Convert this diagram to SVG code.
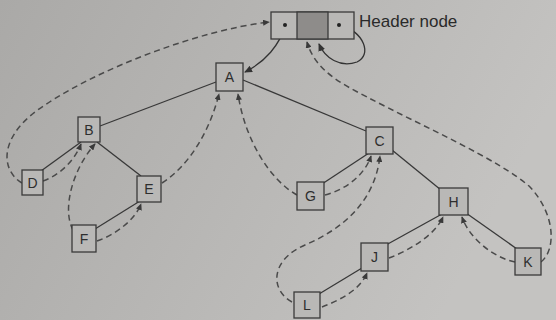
<svg xmlns="http://www.w3.org/2000/svg" width="556" height="320" viewBox="0 0 556 320">
<defs>
<linearGradient id="bg" x1="0" y1="0" x2="1" y2="0.3">
<stop offset="0" stop-color="#aaa9a7"/>
<stop offset="1" stop-color="#c4c3c1"/>
</linearGradient>
<marker id="ah" viewBox="0 0 8 7" refX="7" refY="3.5" markerWidth="8" markerHeight="7" markerUnits="userSpaceOnUse" orient="auto">
<path d="M0,0 L8,3.5 L0,7 z" fill="#333"/>
</marker>
<marker id="ahd" viewBox="0 0 8 7" refX="7" refY="3.5" markerWidth="7" markerHeight="6" markerUnits="userSpaceOnUse" orient="auto">
<path d="M0,0 L8,3.5 L0,7 z" fill="#3a3a3a"/>
</marker>
</defs>
<style>
.box{fill:#b9b8b6;stroke:#3a3a3a;stroke-width:1.3}
.lbl{font-family:"Liberation Sans",Arial,sans-serif;font-size:14px;fill:#2e2e2e;text-anchor:middle}
.edge{fill:none;stroke:#383838;stroke-width:1.3}
.thread{fill:none;stroke:#4a4a4a;stroke-width:1.5;stroke-dasharray:6 4;marker-end:url(#ahd)}
.ptr{fill:none;stroke:#333;stroke-width:1.3;marker-end:url(#ah)}
</style>
<rect width="556" height="320" fill="url(#bg)"/>
<g id="connectors">
<path class="edge" d="M216,82 L100,126"/>
<path class="edge" d="M243,80 L366,131"/>
<path class="edge" d="M81,142 L41,171"/>
<path class="edge" d="M97,142 L141,176"/>
<path class="edge" d="M140,201 L95,229"/>
<path class="edge" d="M369,153 L322,184"/>
<path class="edge" d="M392,150 L441,190"/>
<path class="edge" d="M442,214 L386,245"/>
<path class="edge" d="M466,213 L517,249"/>
<path class="edge" d="M362,268 L319,294"/>
<path class="ptr" d="M285,25 C280,45 265,62 245,72"/>
<path class="ptr" d="M339,25 C365,32 372,55 357,62 C340,68 325,58 319,44"/>
<path class="thread" d="M22,183 C0,170 -2,135 45,105 C100,68 200,30 269,22"/>
<path class="thread" d="M43,181 C60,175 75,160 81,144"/>
<path class="thread" d="M73,230 C62,210 72,170 95,144"/>
<path class="thread" d="M97,241 C115,235 135,220 141,204"/>
<path class="thread" d="M162,183 C190,165 210,130 219,94"/>
<path class="thread" d="M297,195 C270,180 245,140 238,94"/>
<path class="thread" d="M325,195 C345,190 365,175 371,156"/>
<path class="thread" d="M292,302 C270,290 270,260 305,245 C345,228 375,200 380,156"/>
<path class="thread" d="M322,307 C340,300 360,290 367,273"/>
<path class="thread" d="M389,258 C410,250 435,235 443,217"/>
<path class="thread" d="M515,262 C495,258 470,240 462,217"/>
<path class="thread" d="M541,262 C556,250 556,215 530,187 C500,160 420,125 367,97 C340,83 315,70 307,42"/>
</g>
<g id="header">
<rect class="box" x="271" y="12" width="83" height="27"/>
<rect x="297" y="12" width="31" height="27" fill="#8e8c8a" stroke="#3a3a3a" stroke-width="1.3"/>
<circle cx="285" cy="25" r="2" fill="#222"/>
<circle cx="339" cy="25" r="2" fill="#222"/>
<text x="359" y="27" font-family="Liberation Sans,Arial,sans-serif" font-size="17" fill="#2a2a2a">Header node</text>
</g>
<g id="A"><rect class="box" x="216" y="63" width="27" height="28"/><text class="lbl" x="229.5" y="82">A</text></g>
<g id="B"><rect class="box" x="78" y="117" width="22" height="25"/><text class="lbl" x="89" y="134.5">B</text></g>
<g id="D"><rect class="box" x="22" y="170" width="21" height="25"/><text class="lbl" x="32.5" y="187.5">D</text></g>
<g id="E"><rect class="box" x="137" y="176" width="24" height="26"/><text class="lbl" x="149" y="194">E</text></g>
<g id="F"><rect class="box" x="72" y="225" width="24" height="27"/><text class="lbl" x="84" y="243.5">F</text></g>
<g id="C"><rect class="box" x="366" y="127" width="27" height="27"/><text class="lbl" x="379.5" y="145.5">C</text></g>
<g id="G"><rect class="box" x="297" y="182" width="27" height="28"/><text class="lbl" x="310.5" y="201">G</text></g>
<g id="H"><rect class="box" x="439" y="188" width="29" height="27"/><text class="lbl" x="453.5" y="206.5">H</text></g>
<g id="J"><rect class="box" x="361" y="243" width="27" height="28"/><text class="lbl" x="374.5" y="262">J</text></g>
<g id="K"><rect class="box" x="515" y="248" width="26" height="27"/><text class="lbl" x="528" y="266.5">K</text></g>
<g id="L"><rect class="box" x="294" y="292" width="26" height="26"/><text class="lbl" x="307" y="310">L</text></g>
</svg>
